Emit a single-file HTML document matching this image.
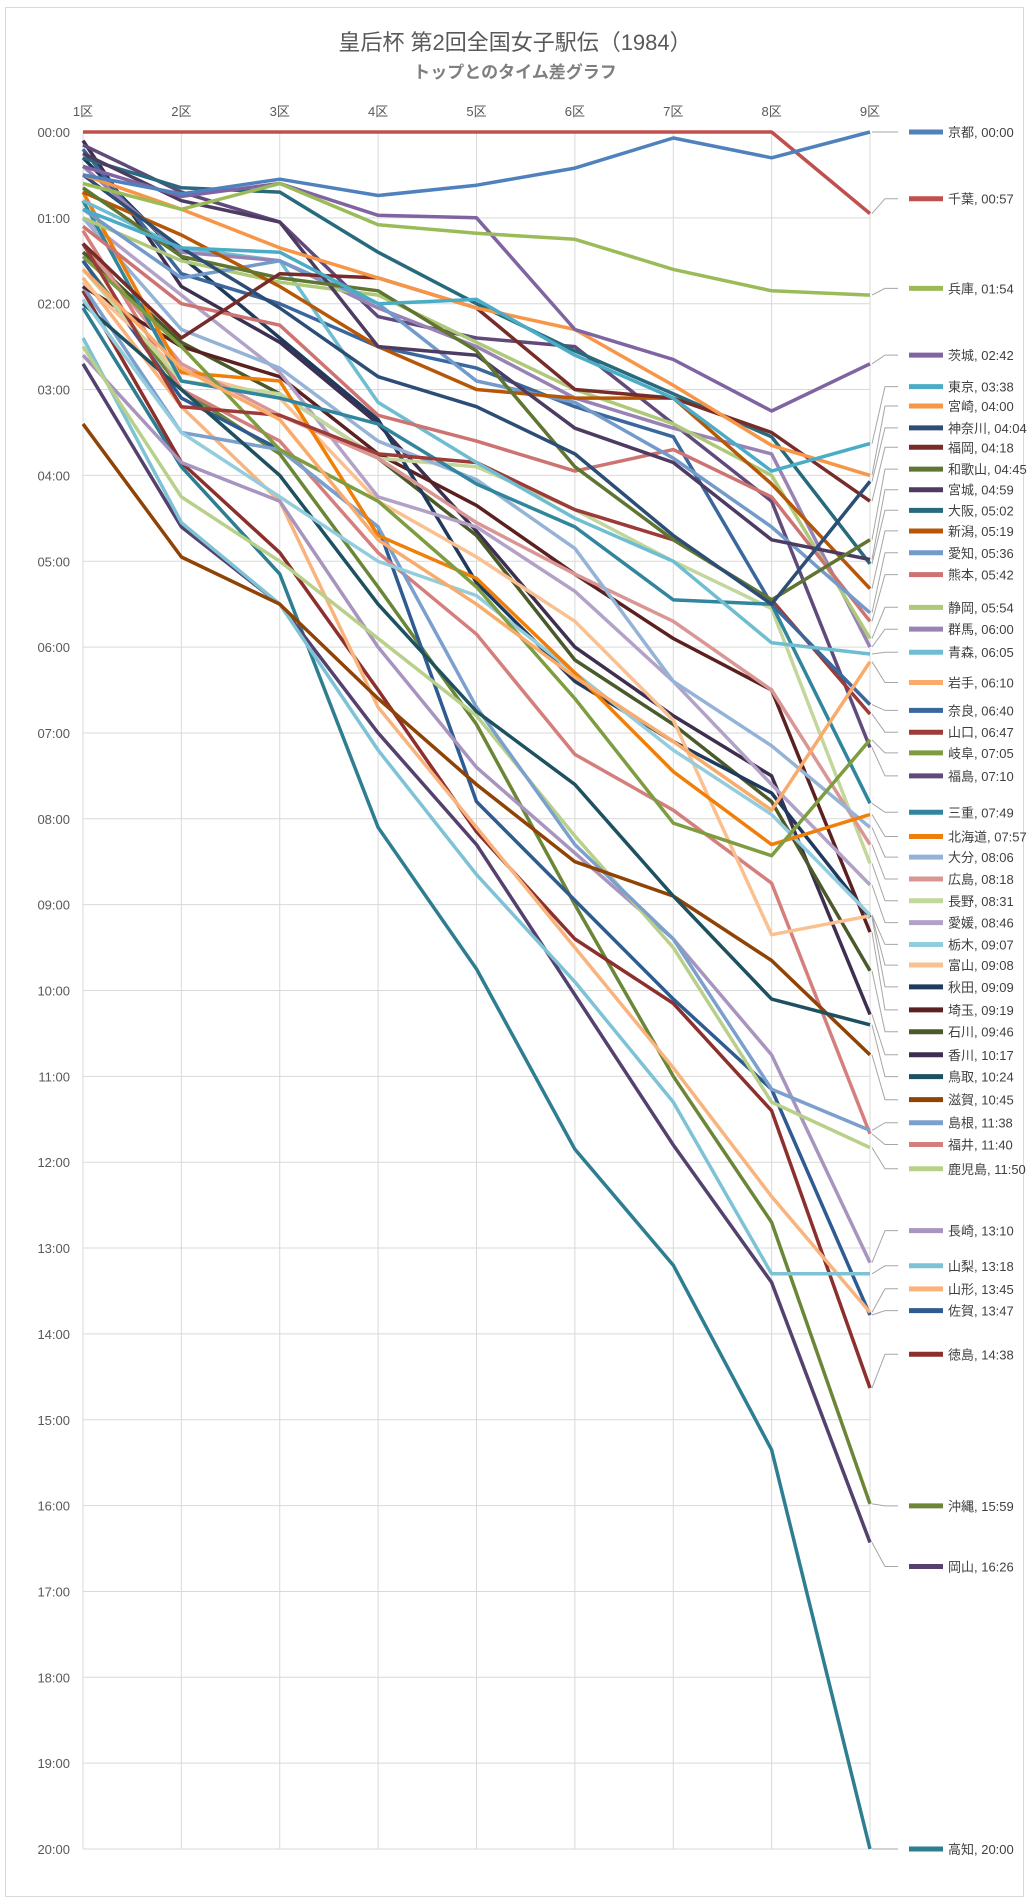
<!DOCTYPE html>
<html><head><meta charset="utf-8">
<style>
html,body{margin:0;padding:0;background:#fff;}
svg{display:block;}
text{font-family:"Liberation Sans","Noto Sans CJK JP",sans-serif;}
</style></head>
<body>
<svg id="c" width="1029" height="1902" xmlns="http://www.w3.org/2000/svg">
<rect x="5.5" y="7.5" width="1018" height="1889" fill="#fff" stroke="#d9d9d9" stroke-width="1"/>
<text x="515" y="50" text-anchor="middle" font-size="22" fill="#595959">皇后杯 第2回全国女子駅伝（1984）</text>
<text x="515" y="78" text-anchor="middle" font-size="17" fill="#7f7f7f" font-weight="bold">トップとのタイム差グラフ</text>
<g id="g"></g>
</svg>
<script>
const X0=83,X1=870,Y0=132,Y1=1849;
const dx=(X1-X0)/8, py=(Y1-Y0)/20;
const xs=i=>X0+i*dx, ys=m=>Y0+m*py;
let s='';
for(let i=0;i<=20;i++){const y=ys(i);s+=`<line x1="${X0}" y1="${y}" x2="${X1}" y2="${y}" stroke="#d9d9d9" stroke-width="1"/>`;
 s+=`<text x="70" y="${y+5}" text-anchor="end" font-size="13" fill="#595959">${String(i).padStart(2,'0')}:00</text>`;}
for(let i=0;i<9;i++){const x=xs(i);s+=`<line x1="${x}" y1="${Y0}" x2="${x}" y2="${Y1}" stroke="#d9d9d9" stroke-width="1"/>`;
 s+=`<text x="${x}" y="116" text-anchor="middle" font-size="13" fill="#595959">${i+1}区</text>`;}
const D=[
["京都","#4F81BD",[0.5,0.72,0.55,0.74,0.62,0.42,0.07,0.3,0],108],
["千葉","#C0504D",[0,0,0,0,0,0,0,0,0.95],163],
["兵庫","#9BBB59",[0.6,0.9,0.6,1.08,1.18,1.25,1.6,1.85,1.9],237],
["茨城","#8064A2",[0.4,0.75,0.6,0.97,1.0,2.3,2.65,3.25,2.7],292],
["東京","#4BACC6",[0.9,1.35,1.4,2.0,1.95,2.6,3.1,3.95,3.63],318],
["宮崎","#F79646",[0.5,0.9,1.35,1.7,2.05,2.3,2.95,3.65,4.0],334],
["神奈川","#2C4D75",[0.5,1.35,2.05,2.85,3.2,3.75,4.7,5.5,4.07],352],
["福岡","#772C2A",[1.3,2.4,1.65,1.7,2.05,3.0,3.1,3.5,4.3],368],
["和歌山","#5F7530",[0.65,1.45,1.7,1.85,2.55,3.9,4.75,5.45,4.75],386],
["宮城","#4D3B62",[0.25,0.8,1.05,2.5,2.6,3.45,3.85,4.75,4.98],403],
["大阪","#276A7C",[0.3,0.65,0.7,1.4,2.0,2.55,3.05,3.55,5.03],420],
["新潟","#B65708",[0.7,1.2,1.8,2.5,3.0,3.1,3.1,4.1,5.32],437],
["愛知","#729ACA",[0.9,1.7,1.5,2.0,2.9,3.15,3.8,4.6,5.6],455],
["熊本","#CD7371",[1.1,2.0,2.25,3.3,3.6,3.95,3.7,4.25,5.7],473],
["静岡","#AFC97A",[1.0,1.5,1.75,1.9,2.45,3.0,3.4,4.0,5.9],500],
["群馬","#9983B5",[0.4,1.4,1.5,2.05,2.5,3.1,3.45,3.75,6.0],518],
["青森","#6FBDD1",[0.8,1.35,1.5,3.15,3.85,4.5,5.0,5.95,6.08],537],
["岩手","#F9AB6B",[1.6,2.75,3.35,4.75,5.5,6.35,7.1,7.9,6.17],562],
["奈良","#3A679C",[0.2,1.65,2.0,2.5,2.75,3.2,3.55,5.5,6.67],585],
["山口","#9C3B38",[1.3,3.2,3.3,3.75,3.85,4.4,4.75,5.45,6.78],603],
["岐阜","#7E9C40",[1.45,2.5,3.7,4.3,5.3,6.6,8.05,8.43,7.08],620],
["福島","#604A7B",[0.15,0.7,1.05,2.15,2.4,2.5,3.4,4.3,7.17],639],
["三重","#31859C",[0.8,2.9,3.1,3.4,4.1,4.6,5.45,5.5,7.82],669],
["北海道","#F07F09",[0.7,2.8,2.9,4.7,5.2,6.3,7.45,8.3,7.95],689],
["大分","#95B3D7",[1.0,2.3,2.75,3.6,4.05,4.85,6.4,7.15,8.1],706],
["広島","#D99694",[1.3,2.7,3.3,3.8,4.55,5.15,5.7,6.5,8.3],724],
["長野","#C3D69B",[1.6,2.9,3.05,3.8,3.9,4.4,5.0,5.55,8.52],742],
["愛媛","#B3A2C7",[1.0,1.9,2.8,4.25,4.6,5.35,6.4,7.6,8.77],760],
["栃木","#93CDDD",[1.95,3.5,4.25,5.0,5.4,6.3,7.2,7.95,9.12],778],
["富山","#FAC090",[1.75,2.8,3.1,4.3,4.95,5.7,6.85,9.35,9.13],795],
["秋田","#1F3A5C",[0.3,1.45,2.4,3.35,5.25,6.4,7.1,7.7,9.15],813],
["埼玉","#5B2120",[1.8,2.5,2.85,3.75,4.35,5.15,5.9,6.5,9.32],832],
["石川","#4B5A2A",[1.4,2.45,3.05,3.8,4.7,6.15,6.9,7.8,9.77],850],
["香川","#3E2F50",[0.1,1.8,2.45,3.4,4.65,6.0,6.8,7.5,10.28],869],
["鳥取","#1E5160",[2.0,3.0,4.0,5.5,6.75,7.6,8.9,10.1,10.4],887],
["滋賀","#8F4406",[3.4,4.95,5.5,6.6,7.6,8.5,8.9,9.65,10.75],906],
["島根","#7BA0CD",[1.8,3.5,3.7,4.6,6.7,8.3,9.4,11.15,11.63],925],
["福井","#D57F7D",[1.15,3.0,3.6,4.9,5.85,7.25,7.9,8.75,11.67],943],
["鹿児島","#B9D08A",[2.5,4.25,5.0,5.9,6.8,8.2,9.5,11.3,11.83],963],
["長崎","#A794BF",[2.6,3.85,4.3,6.0,7.4,8.4,9.4,10.75,13.17],1014],
["山梨","#7DC3D5",[2.4,4.55,5.5,7.2,8.65,9.9,11.3,13.3,13.3],1043],
["山形","#F9B47E",[1.7,3.2,4.3,6.7,8.1,9.5,10.9,12.4,13.75],1062],
["佐賀","#2E5B92",[1.5,3.1,3.7,4.6,7.8,8.95,10.1,11.15,13.78],1080],
["徳島","#8C302D",[1.85,3.85,4.9,6.5,8.15,9.4,10.15,11.4,14.63],1116],
["沖縄","#6B8637",[1.5,3.0,3.75,5.3,6.9,9.0,11.0,12.7,15.98],1241],
["岡山","#54416E",[2.7,4.6,5.5,7.0,8.3,10.05,11.8,13.4,16.43],1291],
["高知","#2E7E91",[2.05,3.9,5.15,8.1,9.75,11.85,13.2,15.35,20.0],1524]
];
const fmt=m=>{const t=Math.round(m*60);return String(Math.floor(t/60)).padStart(2,'0')+':'+String(t%60).padStart(2,'0');};
let lines='',leg='';
for(let k=D.length-1;k>=0;k--){const [n,c,v]=D[k];
 lines+=`<polyline fill="none" stroke="${c}" stroke-width="3.5" stroke-linejoin="round" points="${v.map((m,i)=>xs(i).toFixed(1)+','+ys(m).toFixed(1)).join(' ')}"/>`;}
const fin={"京都":"00:00","千葉":"00:57","兵庫":"01:54","茨城":"02:42","東京":"03:38","宮崎":"04:00","神奈川":"04:04","福岡":"04:18","和歌山":"04:45","宮城":"04:59","大阪":"05:02","新潟":"05:19","愛知":"05:36","熊本":"05:42","静岡":"05:54","群馬":"06:00","青森":"06:05","岩手":"06:10","奈良":"06:40","山口":"06:47","岐阜":"07:05","福島":"07:10","三重":"07:49","北海道":"07:57","大分":"08:06","広島":"08:18","長野":"08:31","愛媛":"08:46","栃木":"09:07","富山":"09:08","秋田":"09:09","埼玉":"09:19","石川":"09:46","香川":"10:17","鳥取":"10:24","滋賀":"10:45","島根":"11:38","福井":"11:40","鹿児島":"11:50","長崎":"13:10","山梨":"13:18","山形":"13:45","佐賀":"13:47","徳島":"14:38","沖縄":"15:59","岡山":"16:26","高知":"20:00"};
for(const [n,c,v,dy] of D){const yl=132+(dy-108)*1.2126, yd=ys(v[8]);
 leg+=`<polyline fill="none" stroke="#a6a6a6" stroke-width="1" points="${X1+2},${yd.toFixed(1)} ${885},${yl.toFixed(1)} ${898},${yl.toFixed(1)}"/>`;
 leg+=`<line x1="909" y1="${yl}" x2="943" y2="${yl}" stroke="${c}" stroke-width="5"/>`;
 leg+=`<text x="948" y="${yl+5}" font-size="13" fill="#404040">${n}, ${fin[n]}</text>`;}
document.getElementById('g').innerHTML=s+lines+leg;
</script>
</body></html>
